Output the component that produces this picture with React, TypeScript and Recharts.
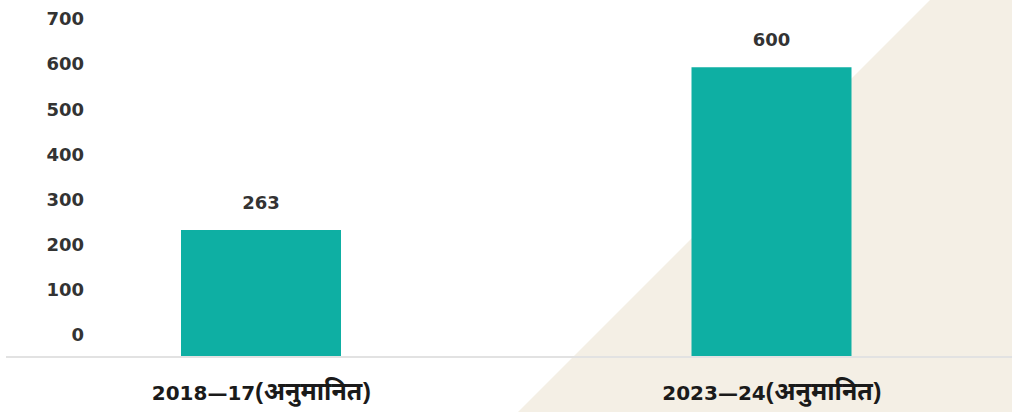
import React from "react";
import { ComposedChart, Bar, Line, XAxis, YAxis, LabelList } from "recharts";

const categories = ["2018—17(अनुमानित)", "2023—24(अनुमानित)"];
const values = [263, 600];
const yTicks = [0, 100, 200, 300, 400, 500, 600, 700];

const data = categories.map((name, i) => ({ name, value: values[i] }));

const NUM_FONT = "'DejaVu Sans', sans-serif";

const renderYTick = (props: any) => {
  const { x, y, payload } = props;
  return (
    <text
      key={`yt-${payload.value}`}
      x={x}
      y={y}
      dx={70}
      dy="0.355em"
      textAnchor="end"
      fontFamily={NUM_FONT}
      fontWeight={700}
      fontSize={18}
      fill="#333333"
    >
      {payload.value}
    </text>
  );
};

const renderXTick = (props: any) => {
  const { x, y, payload } = props;
  const label = String(payload.value);
  const idx = label.indexOf("(");
  const head = idx >= 0 ? label.slice(0, idx) : label;
  const tail = idx >= 0 ? label.slice(idx) : "";
  return (
    <text
      key={`xt-${label}`}
      x={x}
      y={y}
      dy={35}
      textAnchor="middle"
      fontWeight={700}
      fill="#1a1a1a"
    >
      <tspan fontFamily={NUM_FONT} fontSize={20}>
        {head}
      </tspan>
      <tspan fontFamily="'Noto Sans', sans-serif" fontSize={25}>
        {tail}
      </tspan>
    </text>
  );
};

export default function App() {
  return (
    <div
      style={{
        position: "fixed",
        left: 0,
        top: 0,
        width: 1012,
        height: 412,
        overflow: "hidden",
        background: "#ffffff",
      }}
    >
      <svg
        width={1012}
        height={412}
        style={{ position: "absolute", left: 0, top: 0 }}
      >
        <polygon points="930,0 1012,0 1012,412 518,412" fill="#f4efe5" />
      </svg>
      <div style={{ position: "absolute", left: 0, top: 0 }}>
        <ComposedChart
          width={1027}
          height={412}
          data={data}
          margin={{ top: 19, right: 0, bottom: 0, left: 6 }}
          barCategoryGap={0}
        >
          <XAxis
            dataKey="name"
            axisLine={{ stroke: "#e2e2e2", strokeWidth: 2 }}
            tickLine={false}
            height={55}
            tick={renderXTick}
            interval={0}
          />
          <YAxis
            yAxisId="ticks"
            mirror
            type="number"
            domain={[-50, 700]}
            ticks={yTicks}
            axisLine={false}
            tickLine={false}
            tick={renderYTick}
            interval={0}
          />
          <YAxis yAxisId="bars" hide type="number" domain={[0, 700]} />
          <Line
            yAxisId="ticks"
            dataKey="value"
            stroke="none"
            dot={false}
            activeDot={false}
            isAnimationActive={false}
          />
          <Bar
            yAxisId="bars"
            dataKey="value"
            fill="#0eafa3"
            barSize={160}
            isAnimationActive={false}
          >
            <LabelList
              dataKey="value"
              position="top"
              offset={21}
              fill="#333333"
              fontFamily={NUM_FONT}
              fontWeight={700}
              fontSize={18}
            />
          </Bar>
        </ComposedChart>
      </div>
    </div>
  );
}
